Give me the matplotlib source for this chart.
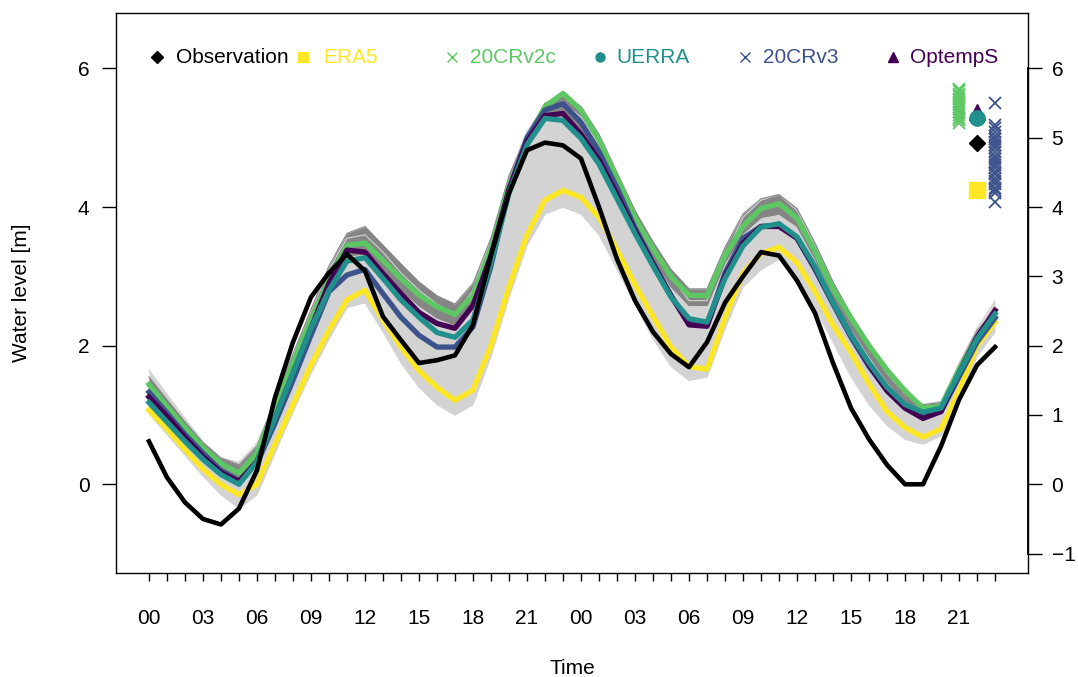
import numpy as np
import matplotlib
matplotlib.use("Agg")
import matplotlib.pyplot as plt

plt.rcParams['font.family'] = ['Liberation Sans', 'DejaVu Sans']

hours = np.arange(48)
tick_labels = ['00', '03', '06', '09', '12', '15', '18', '21'] * 2

# observed water level [m]
obs = [0.62, 0.10, -0.26, -0.50, -0.58, -0.35, 0.20, 1.25, 2.05, 2.70, 3.05, 3.32,
       3.08, 2.42, 2.08, 1.75, 1.79, 1.86, 2.30, 3.30, 4.20, 4.82, 4.93, 4.89,
       4.70, 4.00, 3.25, 2.65, 2.20, 1.88, 1.69, 2.05, 2.62, 3.00, 3.35, 3.30,
       2.94, 2.47, 1.75, 1.10, 0.65, 0.28, 0.00, 0.00, 0.55, 1.22, 1.72, 1.98]
era5 = [1.07, 0.80, 0.50, 0.22, 0.00, -0.15, 0.00, 0.58, 1.15, 1.72, 2.22, 2.66,
        2.80, 2.37, 1.98, 1.64, 1.40, 1.21, 1.36, 2.00, 2.85, 3.60, 4.10, 4.24,
        4.14, 3.85, 3.38, 2.88, 2.42, 1.98, 1.70, 1.66, 2.40, 3.05, 3.33, 3.42,
        3.20, 2.78, 2.30, 1.90, 1.45, 1.05, 0.82, 0.68, 0.80, 1.35, 2.00, 2.34]
cr20v2c = [1.44, 1.12, 0.82, 0.53, 0.30, 0.16, 0.45, 1.10, 1.75, 2.38, 2.95, 3.45,
           3.48, 3.23, 2.97, 2.73, 2.56, 2.45, 2.73, 3.40, 4.30, 4.95, 5.45, 5.64,
           5.40, 4.97, 4.42, 3.85, 3.40, 3.00, 2.73, 2.72, 3.30, 3.72, 3.98, 4.05,
           3.84, 3.36, 2.82, 2.40, 2.00, 1.65, 1.35, 1.10, 1.12, 1.65, 2.12, 2.41]
uerra = [1.18, 0.90, 0.62, 0.36, 0.14, 0.00, 0.32, 0.95, 1.60, 2.25, 2.80, 3.22,
         3.27, 2.97, 2.66, 2.41, 2.19, 2.12, 2.37, 3.20, 4.20, 4.90, 5.28, 5.25,
         4.99, 4.62, 4.12, 3.62, 3.15, 2.70, 2.39, 2.34, 2.97, 3.44, 3.71, 3.76,
         3.57, 3.14, 2.62, 2.15, 1.75, 1.40, 1.15, 1.04, 1.10, 1.60, 2.10, 2.46]
cr20v3 = [1.33, 1.03, 0.72, 0.45, 0.20, 0.05, 0.30, 0.88, 1.50, 2.15, 2.78, 3.02,
          3.10, 2.75, 2.41, 2.15, 1.98, 1.98, 2.27, 3.15, 4.25, 5.00, 5.40, 5.49,
          5.22, 4.80, 4.28, 3.70, 3.20, 2.72, 2.32, 2.30, 3.05, 3.55, 3.72, 3.74,
          3.55, 3.10, 2.60, 2.12, 1.70, 1.35, 1.10, 0.97, 1.05, 1.55, 2.05, 2.40]
optemps = [1.26, 0.98, 0.68, 0.40, 0.17, 0.04, 0.33, 0.95, 1.60, 2.25, 2.90, 3.38,
           3.35, 3.04, 2.75, 2.48, 2.32, 2.25, 2.58, 3.30, 4.25, 4.95, 5.32, 5.35,
           5.05, 4.68, 4.18, 3.66, 3.18, 2.72, 2.30, 2.28, 3.00, 3.48, 3.72, 3.72,
           3.55, 3.12, 2.62, 2.15, 1.72, 1.35, 1.10, 0.95, 1.05, 1.60, 2.12, 2.51]

# ensemble spread (min / max of members)
v3_ens_lo = [1.02, 0.72, 0.42, 0.12, -0.15, -0.35, -0.15, 0.45, 1.05, 1.60, 2.10, 2.55,
             2.62, 2.20, 1.75, 1.40, 1.15, 1.00, 1.15, 1.85, 2.70, 3.45, 3.90, 4.00,
             3.90, 3.60, 3.10, 2.60, 2.10, 1.70, 1.50, 1.55, 2.25, 2.85, 3.10, 3.25,
             3.00, 2.55, 2.05, 1.55, 1.15, 0.85, 0.65, 0.58, 0.70, 1.20, 1.85, 2.20]
v3_ens_hi = [1.65, 1.30, 0.95, 0.62, 0.38, 0.32, 0.60, 1.20, 1.85, 2.50, 3.10, 3.55,
             3.60, 3.35, 3.05, 2.80, 2.60, 2.45, 2.80, 3.55, 4.45, 5.10, 5.45, 5.50,
             5.30, 4.90, 4.40, 3.85, 3.40, 3.00, 2.65, 2.65, 3.30, 3.85, 4.10, 4.18,
             3.95, 3.45, 2.90, 2.40, 2.00, 1.60, 1.30, 1.15, 1.20, 1.75, 2.25, 2.65]
v2c_ens_lo = [1.35, 1.05, 0.75, 0.45, 0.22, 0.10, 0.40, 1.05, 1.70, 2.30, 2.90, 3.30,
              3.32, 3.05, 2.80, 2.58, 2.40, 2.30, 2.60, 3.30, 4.20, 4.85, 5.25, 5.35,
              5.10, 4.72, 4.20, 3.68, 3.25, 2.85, 2.58, 2.58, 3.20, 3.62, 3.85, 3.90,
              3.72, 3.25, 2.72, 2.25, 1.85, 1.48, 1.18, 0.98, 1.02, 1.55, 2.05, 2.35]
v2c_ens_hi = [1.55, 1.22, 0.90, 0.60, 0.38, 0.28, 0.55, 1.20, 1.88, 2.52, 3.15, 3.62,
              3.72, 3.45, 3.18, 2.92, 2.72, 2.60, 2.90, 3.55, 4.45, 5.05, 5.50, 5.62,
              5.45, 5.05, 4.50, 3.95, 3.50, 3.10, 2.82, 2.82, 3.42, 3.90, 4.12, 4.18,
              3.98, 3.48, 2.92, 2.45, 2.02, 1.62, 1.30, 1.15, 1.18, 1.72, 2.22, 2.50]

# peak water levels, shown at the right edge
v2c_peaks = [5.71, 5.67, 5.63, 5.60, 5.56, 5.52, 5.49, 5.45, 5.41, 5.37, 5.33, 5.29, 5.26, 5.22]
v3_peaks = [5.50, 5.18, 5.14, 5.09, 5.03, 4.98, 4.94, 4.89, 4.85, 4.80, 4.74, 4.70,
            4.65, 4.61, 4.56, 4.51, 4.47, 4.42, 4.37, 4.33, 4.28, 4.24, 4.20, 4.07]
obs_peak = 4.93
era5_peak = 4.24
uerra_peak = 5.28
optemps_peak = 5.37

c_obs = 'black'
c_era5 = '#FDE725'
c_v2c = '#5DC863'
c_uerra = '#21908C'
c_v3 = '#3B528B'
c_opt = '#440154'
fs = 15

fig = plt.figure(figsize=(10.78, 6.77), dpi=100)
ax = fig.add_axes([0.1076, 0.1536, 0.8460, 0.8272])

# ensembles
ax.fill_between(hours, v3_ens_lo, v3_ens_hi, color='#d3d3d3', lw=0)
ax.plot(hours, v3_ens_lo, color='#d3d3d3', lw=0.8)
ax.plot(hours, v3_ens_hi, color='#d3d3d3', lw=0.8)
ax.fill_between(hours, v2c_ens_lo, v2c_ens_hi, color='#858585', lw=0)
ax.plot(hours, v2c_ens_lo, color='#858585', lw=0.8)
ax.plot(hours, v2c_ens_hi, color='#858585', lw=0.8)

lw = 3.8
ax.plot(hours, era5, color=c_era5, lw=lw)
ax.plot(hours, cr20v2c, color=c_v2c, lw=lw)
ax.plot(hours, cr20v3, color=c_v3, lw=lw)
ax.plot(hours, optemps, color=c_opt, lw=lw)
ax.plot(hours, uerra, color=c_uerra, lw=lw)
ax.plot(hours, obs, color=c_obs, lw=3.3)

# peaks
ax.plot([45] * len(v2c_peaks), v2c_peaks, 'x', color=c_v2c, ms=9, mew=1.3)
ax.plot([47] * len(v3_peaks), v3_peaks, 'x', color=c_v3, ms=9, mew=1.3)
ax.plot(46, optemps_peak, '^', color=c_opt, ms=11)
ax.plot(46, uerra_peak, 'o', color=c_uerra, ms=11)
ax.plot(46, obs_peak, 'D', color=c_obs, ms=8.5)
ax.plot(46, era5_peak, 's', color=c_era5, ms=11)

ax.set_xlim(-1.83, 48.83)
ax.set_ylim(-1.28, 6.80)

ax.set_xticks(hours, minor=True)
ax.set_xticks(hours[::3])
ax.set_xticklabels(tick_labels)
ax.tick_params(axis='x', which='both', direction='out', length=6, width=1, pad=20, labelsize=fs)
ax.set_yticks([0, 2, 4, 6])
ax.tick_params(axis='y', direction='out', length=10, width=1, pad=9, labelsize=fs)
for s in ax.spines.values():
    s.set_linewidth(1.0)

ax2 = ax.twinx()
ax2.set_ylim(ax.get_ylim())
ax2.set_yticks(range(-1, 7))
ax2.tick_params(axis='y', direction='out', length=10, width=1, pad=7, labelsize=fs)
ax2.spines['right'].set_bounds(-1, 6)
ax2.spines['right'].set_linewidth(1.3)
for side in ['left', 'top', 'bottom']:
    ax2.spines[side].set_visible(False)

# legend row
leg = [('D', c_obs, 'Observation', 6), ('s', c_era5, 'ERA5', 6.5), ('x', c_v2c, '20CRv2c', 7),
       ('o', c_uerra, 'UERRA', 6.5), ('x', c_v3, '20CRv3', 7), ('^', c_opt, 'OptempS', 7)]
mark_x = [0.045, 0.205, 0.368, 0.531, 0.690, 0.852]
text_x = [0.066, 0.227, 0.388, 0.549, 0.709, 0.871]
for (m, c, lab, ms), mx, tx in zip(leg, mark_x, text_x):
    ax.plot(mx, 0.921, m, color=c, ms=ms, mew=1.0, transform=ax.transAxes, clip_on=False)
    ax.text(tx, 0.921, lab, color=c, fontsize=fs, va='center', ha='left', transform=ax.transAxes)

fig.text(22 / 1078, 0.567, 'Water level [m]', rotation=90, ha='center', va='center', fontsize=fs)
fig.text(572 / 1078, 9 / 677, 'Time', ha='center', va='center', fontsize=fs)

fig.savefig('out.png', dpi=100)
